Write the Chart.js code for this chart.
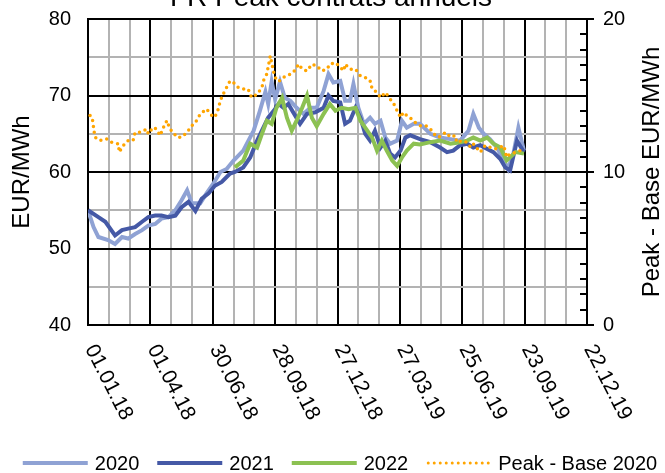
<!DOCTYPE html>
<html>
<head>
<meta charset="utf-8">
<script src="https://cdn.jsdelivr.net/npm/chart.js@4.4.0/dist/chart.umd.min.js"></script>
<style>
  html, body { margin: 0; padding: 0; background: #fff; }
</style>
</head>
<body>
<canvas id="chart" width="665" height="473"></canvas>
<script>
// days counted from 01.01.18
const tickDays = [0, 90, 180, 270, 360, 450, 540, 630, 720];
const tickLabels = ['01.01.18', '01.04.18', '30.06.18', '28.09.18', '27.12.18', '27.03.19', '25.06.19', '23.09.19', '22.12.19'];

const days2020 = [0, 8, 15, 29, 39, 49, 58, 68, 78, 87, 97, 106, 116, 126, 135, 143, 150, 162, 171, 181, 191, 200, 210, 224, 239, 248, 256, 260, 265, 270, 277, 284, 292, 301, 311, 321, 330, 340, 347, 354, 364, 371, 378, 383, 390, 398, 407, 414, 422, 429, 436, 446, 453, 460, 470, 479, 494, 508, 523, 537, 549, 556, 564, 571, 580, 590, 600, 606, 614, 621, 629];
const val2020 = [55.0, 52.8, 51.5, 51.1, 50.6, 51.5, 51.3, 51.9, 52.4, 53.0, 53.2, 53.9, 54.1, 55.0, 56.3, 57.6, 55.9, 55.9, 57.2, 58.5, 60.0, 60.4, 61.5, 62.8, 65.4, 68.0, 70.5, 68.9, 71.8, 69.5, 71.8, 69.7, 69.3, 68.4, 67.6, 68.4, 68.4, 70.6, 72.8, 71.7, 71.9, 69.3, 69.3, 71.5, 68.4, 66.3, 67.1, 66.3, 66.7, 64.5, 63.7, 64.1, 66.7, 65.8, 66.3, 66.3, 65.0, 64.5, 64.3, 64.1, 65.4, 67.6, 65.8, 65.0, 64.3, 63.2, 61.5, 60.4, 62.5, 65.8, 62.8];

const days2021 = [0, 15, 25, 39, 49, 58, 68, 78, 87, 97, 106, 116, 126, 135, 145, 155, 164, 174, 183, 193, 205, 212, 224, 234, 244, 253, 260, 268, 275, 282, 289, 296, 306, 316, 328, 340, 347, 354, 364, 371, 378, 386, 393, 400, 407, 414, 422, 429, 436, 443, 451, 458, 465, 479, 494, 508, 518, 527, 537, 547, 556, 566, 576, 585, 595, 602, 609, 619, 629];
const val2021 = [55.0, 54.1, 53.5, 51.7, 52.4, 52.6, 52.8, 53.5, 54.1, 54.3, 54.3, 54.1, 54.3, 55.4, 56.1, 54.9, 56.5, 57.2, 58.2, 58.7, 59.8, 60.0, 60.6, 61.9, 64.1, 65.8, 67.1, 68.0, 68.9, 68.4, 68.9, 67.8, 66.3, 67.6, 67.8, 68.4, 70.0, 69.3, 69.1, 66.3, 66.7, 68.4, 67.1, 65.0, 64.1, 65.4, 63.2, 64.1, 62.4, 61.9, 62.8, 64.5, 64.8, 64.3, 63.9, 63.2, 62.6, 62.8, 63.5, 63.7, 63.2, 63.5, 63.0, 62.6, 61.7, 60.6, 60.2, 64.1, 62.6];

const days2022 = [212, 224, 234, 244, 251, 258, 265, 272, 280, 287, 294, 301, 309, 316, 323, 330, 340, 349, 357, 366, 376, 386, 393, 400, 410, 417, 424, 431, 439, 446, 453, 460, 470, 479, 494, 508, 523, 537, 547, 556, 566, 576, 585, 595, 604, 617, 629];
const val2022 = [60.6, 61.5, 63.7, 63.2, 65.0, 66.7, 66.3, 68.4, 69.7, 67.1, 65.4, 66.7, 68.4, 70.0, 67.1, 66.0, 67.6, 68.9, 68.0, 68.4, 68.2, 68.4, 66.7, 65.8, 64.5, 62.8, 64.1, 62.8, 61.5, 60.8, 61.9, 62.8, 63.7, 63.6, 63.9, 64.1, 63.7, 63.9, 64.1, 64.5, 64.1, 64.5, 63.7, 63.2, 61.5, 62.6, 62.4];

const daysSpread = [3, 6, 10, 17, 27, 34, 44, 45, 51, 58, 65, 68, 75, 85, 87, 94, 99, 104, 111, 114, 118, 123, 128, 135, 143, 150, 155, 162, 171, 181, 186, 191, 195, 205, 210, 217, 224, 231, 236, 244, 251, 253, 258, 263, 265, 268, 272, 277, 282, 287, 292, 296, 304, 309, 316, 323, 330, 337, 345, 349, 357, 369, 371, 378, 386, 393, 400, 407, 410, 417, 422, 429, 436, 443, 446, 451, 455, 463, 467, 472, 479, 487, 491, 494, 499, 506, 516, 523, 530, 532, 540, 547, 552, 556, 566, 573, 580, 588, 595, 600, 604, 609, 617, 624, 629];
const valSpread = [13.7, 13.57, 12.27, 12.05, 12.16, 11.94, 11.84, 11.29, 11.73, 12.05, 12.05, 12.59, 12.59, 12.81, 12.49, 12.92, 12.81, 12.38, 13.14, 13.36, 12.81, 12.59, 12.27, 12.27, 12.59, 13.03, 13.24, 13.79, 14.12, 13.57, 13.79, 14.66, 15.09, 15.96, 15.85, 15.52, 15.42, 15.42, 14.87, 15.09, 15.52, 15.96, 16.4, 17.59, 17.15, 16.5, 15.96, 15.96, 16.18, 16.29, 16.4, 16.5, 17.05, 16.72, 16.61, 17.05, 16.94, 16.61, 16.72, 17.05, 17.15, 16.61, 17.05, 16.72, 16.72, 16.29, 16.18, 15.96, 15.42, 15.2, 14.87, 15.2, 14.77, 14.33, 14.0, 13.57, 13.9, 13.57, 13.47, 13.24, 13.03, 13.03, 12.92, 12.81, 12.49, 12.27, 12.59, 12.27, 12.38, 11.94, 12.05, 11.94, 11.62, 11.84, 11.29, 11.73, 11.62, 11.51, 11.62, 11.73, 10.96, 11.18, 11.29, 11.4, 11.51];

const toPoints = (xs, ys) => xs.map((x, i) => ({ x: x, y: ys[i] }));

const FONT = '"Liberation Sans", Arial, sans-serif';
const CLEAR = 'rgba(0,0,0,0)';

const decor = {
  id: 'decor',
  afterDraw(chart) {
    const { ctx, chartArea: a, scales } = chart;
    ctx.save();
    ctx.fillStyle = '#000';
    ctx.textAlign = 'center';
    ctx.textBaseline = 'alphabetic';
    ctx.font = '28px ' + FONT;
    ctx.fillText('FR Peak contrats annuels', 331, 6);

    // axis titles
    ctx.font = '24px ' + FONT;
    ctx.textBaseline = 'middle';
    const midY = (a.top + a.bottom) / 2;
    ctx.save();
    ctx.translate(22, midY);
    ctx.rotate(-Math.PI / 2);
    ctx.fillText('EUR/MWh', 0, 0);
    ctx.restore();
    ctx.save();
    ctx.translate(652, midY);
    ctx.rotate(-Math.PI / 2);
    ctx.fillText('Peak - Base EUR/MWh', 0, 0);
    ctx.restore();

    // rotated date labels
    ctx.font = '21px ' + FONT;
    ctx.textAlign = 'left';
    tickDays.forEach((d, i) => {
      const x = scales.x.getPixelForValue(d);
      ctx.save();
      ctx.translate(x + 2, a.bottom + 21);
      ctx.rotate(63 * Math.PI / 180);
      ctx.fillText(tickLabels[i], 0, 0);
      ctx.restore();
    });

    // right axis tick marks
    ctx.strokeStyle = '#000';
    ctx.lineWidth = 2;
    for (let v = 0; v <= 20; v++) {
      const y = Math.round(scales.y1.getPixelForValue(v));
      ctx.beginPath();
      ctx.moveTo(a.right - 7, y);
      ctx.lineTo(v % 10 === 0 ? a.right + 7 : a.right, y);
      ctx.stroke();
    }

    // legend
    ctx.font = '20px ' + FONT;
    ctx.textBaseline = 'middle';
    ctx.textAlign = 'left';
    const lineLen = 65, gapText = 7, gapItem = 18, ly = 463;
    const sets = chart.data.datasets;
    let total = 0;
    sets.forEach((ds, i) => {
      total += lineLen + gapText + ctx.measureText(ds.label).width;
      if (i < sets.length - 1) total += gapItem;
    });
    let x = 340 - total / 2;
    sets.forEach(ds => {
      ctx.save();
      ctx.strokeStyle = ds.borderColor;
      ctx.lineWidth = ds.borderDash ? 3 : 4;
      ctx.lineCap = ds.borderDash ? 'round' : 'butt';
      ctx.setLineDash(ds.borderDash || []);
      ctx.beginPath();
      ctx.moveTo(x + (ds.borderDash ? 2 : 0), ly);
      ctx.lineTo(x + lineLen, ly);
      ctx.stroke();
      ctx.restore();
      x += lineLen + gapText;
      ctx.fillText(ds.label, x, ly + 1);
      x += ctx.measureText(ds.label).width + gapItem;
    });
    ctx.restore();
  }
};

const data = {
  datasets: [
    { label: '2020', data: toPoints(days2020, val2020), borderColor: '#8FA2D4', borderWidth: 4, yAxisID: 'y', order: 3 },
    { label: '2021', data: toPoints(days2021, val2021), borderColor: '#4559A6', borderWidth: 4, yAxisID: 'y', order: 2 },
    { label: '2022', data: toPoints(days2022, val2022), borderColor: '#8CC152', borderWidth: 4, yAxisID: 'y', order: 1 },
    { label: 'Peak - Base 2020', data: toPoints(daysSpread, valSpread), borderColor: '#FFA500', borderWidth: 3.5, borderDash: [0, 6], borderCapStyle: 'round', yAxisID: 'y1', order: 0 }
  ]
};

const config = {
  type: 'line',
  data: data,
  options: {
    responsive: false,
    animation: false,
    layout: { padding: { top: 18, left: 0, right: 0, bottom: 0 } },
    elements: { point: { radius: 0 }, line: { tension: 0 } },
    plugins: {
      title: { display: false },
      tooltip: { enabled: false },
      legend: { display: false }
    },
    scales: {
      x: {
        type: 'linear',
        min: 0,
        max: 720,
        afterBuildTicks: s => {
          s.ticks = [];
          for (let v = 0; v <= 720; v += 30) s.ticks.push({ value: v });
        },
        ticks: { display: false },
        grid: {
          color: c => (c.tick && c.tick.value % 90 === 0) ? '#000' : '#b3b3b3',
          lineWidth: 2,
          drawTicks: false
        },
        border: { color: '#000', width: 2 },
        afterFit: s => { s.height = 148; }
      },
      y: {
        position: 'left',
        min: 40,
        max: 80,
        ticks: {
          stepSize: 5,
          color: '#000',
          font: { size: 20, family: FONT },
          padding: 7,
          callback: v => v % 10 === 0 ? v : ''
        },
        grid: {
          color: c => (c.tick && c.tick.value % 10 === 0) ? '#000' : '#b3b3b3',
          lineWidth: 2,
          drawTicks: true,
          tickLength: 10,
          tickColor: CLEAR
        },
        border: { color: '#000', width: 2 },
        afterFit: s => { s.width = 88; }
      },
      y1: {
        position: 'right',
        min: 0,
        max: 20,
        ticks: {
          stepSize: 10,
          color: '#000',
          font: { size: 20, family: FONT },
          padding: 7
        },
        grid: { drawOnChartArea: false, drawTicks: true, tickLength: 9, tickColor: CLEAR },
        border: { color: '#000', width: 2 },
        afterFit: s => { s.width = 78; }
      }
    }
  },
  plugins: [decor]
};

const myChart = new Chart(document.getElementById('chart').getContext('2d'), config);
</script>
</body>
</html>
